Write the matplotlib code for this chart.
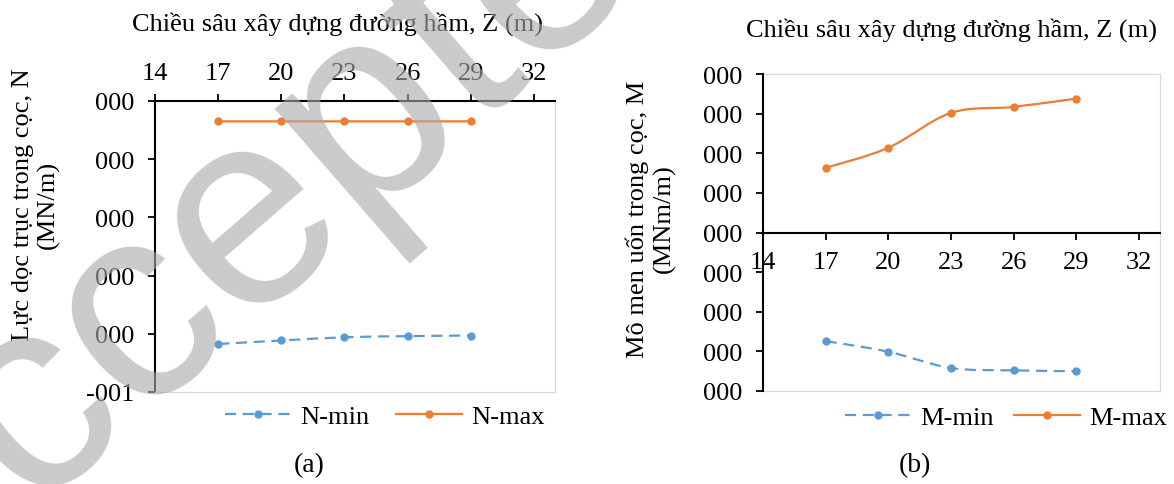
import matplotlib
matplotlib.use("Agg")
import matplotlib.pyplot as plt
import numpy as np
from matplotlib.path import Path
from matplotlib.patches import PathPatch
from matplotlib.lines import Line2D

plt.rcParams['font.family'] = ['Liberation Serif', 'DejaVu Serif']

# ---------------- data ----------------
depth = [17, 20, 23, 26, 29]
n_min = [-0.835, -0.823, -0.812, -0.808, -0.806]
n_max = [-0.070, -0.070, -0.070, -0.070, -0.070]
m_min = [-2.74, -3.01, -3.42, -3.48, -3.50]
m_max = [1.63, 2.14, 3.02, 3.17, 3.38]

x_ticks = [14, 17, 20, 23, 26, 29, 32]
n_yticks = [0, -0.2, -0.4, -0.6, -0.8, -1.0]
n_yticklabels = ["000", "000", "000", "000", "000", "-001"]
m_yticks = [-4, -3, -2, -1, 0, 1, 2, 3, 4]
m_yticklabels = ["000"] * 9

xlabel = "Chiều sâu xây dựng đường hầm, Z (m)"
n_ylabel = "Lực dọc trục trong cọc, N\n(MN/m)"
m_ylabel = "Mô men uốn trong cọc, M\n(MNm/m)"

BLUE = "#5B9BD5"
ORANGE = "#ED7D31"
GRID = "#d9d9d9"
FS = 19

W, H = 1174, 485
fig = plt.figure(figsize=(W / 100, H / 100), dpi=100)


def smooth_path(ax, xs, ys, **kw):
    """Excel-like smoothed line through the points (Catmull-Rom Bezier)."""
    pts = np.column_stack([xs, ys]).astype(float)
    n = len(pts)
    verts = [pts[0]]
    codes = [Path.MOVETO]
    for i in range(n - 1):
        p0 = pts[i - 1] if i > 0 else pts[i]
        p1 = pts[i]
        p2 = pts[i + 1]
        p3 = pts[i + 2] if i + 2 < n else pts[i + 1]
        c1 = p1 + (p2 - p0) / 6.0
        c2 = p2 - (p3 - p1) / 6.0
        verts += [c1, c2, p2]
        codes += [Path.CURVE4] * 3
    patch = PathPatch(Path(verts, codes), fill=False, transform=ax.transData, **kw)
    ax.add_patch(patch)
    return patch


def px_axes(l, t, r, b):
    return fig.add_axes([l / W, 1 - b / H, (r - l) / W, (b - t) / H])


DASH = (0, (5, 3))
LW = 1.6
MS = 5

# ---------------- panel (a) ----------------
ax1 = px_axes(155, 102, 555, 393)
ax1.set_xlim(14, 33)
ax1.set_ylim(-1.0, 0.0)
ax1.xaxis.tick_top()
ax1.set_xticks(x_ticks)
ax1.set_xticklabels([str(v) for v in x_ticks])
ax1.set_yticks(n_yticks)
ax1.set_yticklabels(n_yticklabels)
ax1.tick_params(axis='x', direction='out', length=5, width=1.3, pad=7, labelsize=FS)
ax1.tick_params(axis='y', direction='out', length=5, width=1.3, pad=10, labelsize=FS)
for s in ['left', 'top']:
    ax1.spines[s].set_color('black')
    ax1.spines[s].set_linewidth(1.5)
for s in ['right', 'bottom']:
    ax1.spines[s].set_color(GRID)
    ax1.spines[s].set_linewidth(0.9)

smooth_path(ax1, depth, n_min, edgecolor=BLUE, linewidth=LW, linestyle=DASH, zorder=3)
smooth_path(ax1, depth, n_max, edgecolor=ORANGE, linewidth=LW, zorder=3)
ax1.plot(depth, n_min, linestyle='none', marker='o', markersize=MS, color=BLUE, zorder=4)
ax1.plot(depth, n_max, linestyle='none', marker='o', markersize=MS, color=ORANGE, zorder=4)

h1 = [Line2D([], [], color=BLUE, linestyle=DASH, linewidth=LW, marker='o', markersize=MS),
      Line2D([], [], color=ORANGE, linewidth=LW, marker='o', markersize=MS)]
fig.legend(h1, ["N-min", "N-max"], loc='center', bbox_to_anchor=(385 / W, 1 - 417 / H),
           ncol=2, frameon=False, fontsize=FS, handlelength=2.5, handletextpad=0.35,
           columnspacing=1.0, numpoints=1, borderpad=0, borderaxespad=0)

fig.text(338 / W, 1 - 24 / H, xlabel, ha='center', va='center', fontsize=FS)
fig.text(36 / W, 1 - 205 / H, n_ylabel, ha='center', va='center', rotation=90,
         fontsize=FS, multialignment='center', linespacing=1.2)
fig.text(309 / W, 1 - 466 / H, "(a)", ha='center', va='center', fontsize=FS + 1)

# ---------------- panel (b) ----------------
ax2 = px_axes(763, 75, 1160, 392)
ax2.spines['bottom'].set_position(('data', 0))
ax2.set_xlim(14, 33)
ax2.set_ylim(-4, 4)
ax2.set_xticks(x_ticks)
ax2.set_xticklabels([str(v) for v in x_ticks])
ax2.set_yticks(m_yticks)
ax2.set_yticklabels(m_yticklabels)
ax2.spines['bottom'].set_color('black')
ax2.spines['bottom'].set_linewidth(1.5)
ax2.spines['left'].set_color('black')
ax2.spines['left'].set_linewidth(1.5)
for s in ['right', 'top']:
    ax2.spines[s].set_color(GRID)
    ax2.spines[s].set_linewidth(0.9)
ax2.plot([0, 1], [0, 0], transform=ax2.transAxes, color=GRID, linewidth=0.9, clip_on=False)
ax2.tick_params(axis='x', direction='out', length=5, width=1.3, pad=8, labelsize=FS)
ax2.tick_params(axis='y', direction='out', length=5, width=1.3, pad=10, labelsize=FS)
ax2.spines['left'].set_zorder(5)

smooth_path(ax2, depth, m_min, edgecolor=BLUE, linewidth=LW, linestyle=DASH, zorder=3)
smooth_path(ax2, depth, m_max, edgecolor=ORANGE, linewidth=LW, zorder=3)
ax2.plot(depth, m_min, linestyle='none', marker='o', markersize=MS, color=BLUE, zorder=4)
ax2.plot(depth, m_max, linestyle='none', marker='o', markersize=MS, color=ORANGE, zorder=4)

h2 = [Line2D([], [], color=BLUE, linestyle=DASH, linewidth=LW, marker='o', markersize=MS),
      Line2D([], [], color=ORANGE, linewidth=LW, marker='o', markersize=MS)]
fig.legend(h2, ["M-min", "M-max"], loc='center', bbox_to_anchor=(1006 / W, 1 - 418 / H),
           ncol=2, frameon=False, fontsize=FS, handlelength=2.5, handletextpad=0.35,
           columnspacing=0.75, numpoints=1, borderpad=0, borderaxespad=0)

fig.text(952 / W, 1 - 30 / H, xlabel, ha='center', va='center', fontsize=FS)
fig.text(651 / W, 1 - 219 / H, m_ylabel, ha='center', va='center', rotation=90,
         fontsize=FS, multialignment='center', linespacing=1.2)
fig.text(915 / W, 1 - 466 / H, "(b)", ha='center', va='center', fontsize=FS + 1)

# ---------------- watermark ----------------
fig.text(282 / W, 1 - 202 / H, "Accepted", ha='center', va='center', rotation=41,
         fontsize=200, color='#aaaaaa', alpha=0.62, family='Liberation Sans', zorder=20)

fig.savefig("out.png", dpi=100)
